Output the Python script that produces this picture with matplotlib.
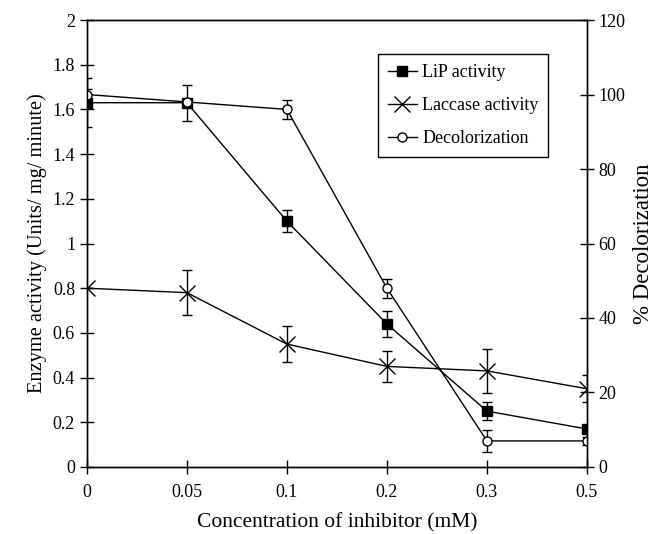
import matplotlib.pyplot as plt
from matplotlib.lines import Line2D
plt.switch_backend('Agg')

plt.rcParams['font.family'] = ['Liberation Serif', 'DejaVu Serif']

conc_labels = ['0', '0.05', '0.1', '0.2', '0.3', '0.5']
lip = [1.63, 1.63, 1.10, 0.64, 0.25, 0.17]
lip_err = [0.11, 0.08, 0.05, 0.06, 0.04, 0.02]
laccase = [0.80, 0.78, 0.55, 0.45, 0.43, 0.35]
laccase_err = [0.0, 0.10, 0.08, 0.07, 0.10, 0.06]
decol = [100, 98, 96, 48, 7, 7]
decol_err = [1.5, 0.0, 2.5, 2.5, 3.0, 1.0]

x = list(range(len(conc_labels)))

fig = plt.figure(figsize=(6.58, 5.34), dpi=100)
ax = fig.add_axes([0.132, 0.1255, 0.76, 0.837])
ax2 = ax.twinx()

common = dict(color='black', lw=1, capsize=3.5, elinewidth=1, capthick=1)
ax.errorbar(x, lip, yerr=lip_err, marker='s', ms=6.5, mfc='black',
            mec='black', **common)
ax.errorbar(x, laccase, yerr=laccase_err, marker='x', ms=11, mew=1, **common)
ax2.errorbar(x, decol, yerr=decol_err, marker='o', ms=6.5, mfc='white',
             mec='black', mew=1, **common)

ax.set_xlim(0, 5)
ax.set_ylim(0, 2)
ax2.set_ylim(0, 120)
ax.set_xticks(x)
ax.set_xticklabels(conc_labels)
ax.set_yticks([i * 0.2 for i in range(11)])
ax.set_yticklabels(['0', '0.2', '0.4', '0.6', '0.8', '1', '1.2', '1.4',
                    '1.6', '1.8', '2'])
ax2.set_yticks(range(0, 121, 20))

for a in (ax, ax2):
    a.tick_params(direction='inout', length=10, width=1, labelsize=13,
                  colors='black')
    for s in a.spines.values():
        s.set_linewidth(1)
ax.tick_params(axis='x', pad=7)

ax.set_xlabel('Concentration of inhibitor (mM)', fontsize=15.5, labelpad=9)
ax.set_ylabel('Enzyme activity (Units/ mg/ minute)', fontsize=14.7, labelpad=4)
ax2.set_ylabel('% Decolorization', fontsize=16.5, labelpad=5)

handles = [
    Line2D([], [], color='black', lw=1, marker='s', ms=6.5),
    Line2D([], [], color='black', lw=1, marker='x', ms=11, mew=1),
    Line2D([], [], color='black', lw=1, marker='o', ms=6.5, mfc='white'),
]
leg = ax2.legend(handles, ['LiP activity', 'Laccase activity', 'Decolorization'],
                 loc='upper left', bbox_to_anchor=(0.582, 0.924), fontsize=13,
                 fancybox=False, edgecolor='black', framealpha=1,
                 handlelength=1.6, handletextpad=0.3, labelspacing=0.9,
                 borderpad=0.55, borderaxespad=0)
leg.get_frame().set_linewidth(1)

fig.savefig('out.png', dpi=100)
